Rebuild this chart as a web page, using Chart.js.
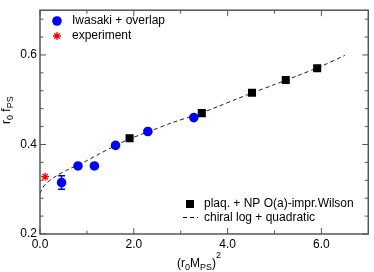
<!DOCTYPE html>
<html>
<head>
<meta charset="utf-8">
<script src="https://cdn.jsdelivr.net/npm/chart.js@4.4.1/dist/chart.umd.min.js"></script>
<style>
    html, body { margin: 0; padding: 0; background: #fff; }
</style>
</head>
<body>
<canvas id="fpsChart" width="374" height="272"></canvas>
<script>
// ===========================
// DATA
// ===========================
const iwasakiX = [0.46, 0.81, 1.16, 1.61, 2.30, 3.28];
const iwasakiY = [0.315, 0.352, 0.352, 0.398, 0.429, 0.460];
const iwasakiErr = [0.015, 0, 0, 0, 0, 0];

const wilsonX = [1.91, 3.45, 4.52, 5.24, 5.91];
const wilsonY = [0.414, 0.470, 0.5155, 0.544, 0.5705];

const experimentX = [0.11];
const experimentY = [0.328];

const fitX = [0, 0.05, 0.12, 0.2, 0.35, 0.6, 1.0, 1.3, 1.6, 1.9, 2.3, 2.8, 3.4, 3.8, 4.2, 4.5, 5.0, 5.5, 6.0, 6.5];
const fitY = [0.290, 0.302, 0.312, 0.319, 0.330, 0.344, 0.364, 0.381, 0.397, 0.412, 0.428, 0.448, 0.469, 0.485, 0.502, 0.514, 0.534, 0.554, 0.575, 0.599];

const xTicks = [0, 2, 4, 6];
const xMinorTicks = [1, 3, 5];
const yTicks = [0.2, 0.4, 0.6];
const yMinorTicks = [0.24, 0.28, 0.32, 0.36, 0.44, 0.48, 0.52, 0.56, 0.64, 0.68];

const legendTop = ['Iwasaki + overlap', 'experiment'];
const legendBottom = ['plaq. + NP O(a)-impr.Wilson', 'chiral log + quadratic'];

const FONT = "'Liberation Sans', Arial, Helvetica, sans-serif";

function toPoints(xs, ys) {
    return xs.map((x, i) => ({ x: x, y: ys[i] }));
}

// Write text with sub/superscript pieces: [text, kind] where kind is 0 / 'sub' / 'sup'
function drawRichText(ctx, parts, x, y) {
    let cx = x;
    parts.forEach(([txt, kind]) => {
        if (kind === 'sub') {
            ctx.font = `9px ${FONT}`;
            ctx.fillText(txt, cx, y + 3);
        } else if (kind === 'sup') {
            ctx.font = `9px ${FONT}`;
            ctx.fillText(txt, cx, y - 9);
        } else {
            ctx.font = `12px ${FONT}`;
            ctx.fillText(txt, cx, y);
        }
        cx += ctx.measureText(txt).width;
    });
}

// Frame, inward ticks, error bars, axis titles, legends
const decorPlugin = {
    id: 'decor',
    beforeDatasetsDraw(chart) {
        const ctx = chart.ctx;
        const xs = chart.scales.x, ys = chart.scales.y;
        ctx.save();
        ctx.strokeStyle = '#0000ff';
        ctx.lineWidth = 1.5;
        iwasakiX.forEach((x, i) => {
            const e = iwasakiErr[i];
            if (!e) return;
            const px = xs.getPixelForValue(x);
            const top = ys.getPixelForValue(iwasakiY[i] + e);
            const bot = ys.getPixelForValue(iwasakiY[i] - e);
            ctx.beginPath();
            ctx.moveTo(px, top); ctx.lineTo(px, bot);
            ctx.moveTo(px - 3.5, top); ctx.lineTo(px + 3.5, top);
            ctx.moveTo(px - 3.5, bot); ctx.lineTo(px + 3.5, bot);
            ctx.stroke();
        });
        ctx.restore();
    },
    afterDraw(chart) {
        const ctx = chart.ctx;
        const a = chart.chartArea;
        const xs = chart.scales.x, ys = chart.scales.y;
        ctx.save();

        // frame
        ctx.strokeStyle = '#555';
        ctx.lineWidth = 1.5;
        ctx.strokeRect(a.left, a.top, a.right - a.left, a.bottom - a.top);

        // inward ticks on all four sides
        ctx.lineWidth = 1;
        ctx.beginPath();
        const xTick = (v, len) => {
            const p = xs.getPixelForValue(v);
            ctx.moveTo(p, a.bottom); ctx.lineTo(p, a.bottom - len);
            ctx.moveTo(p, a.top); ctx.lineTo(p, a.top + len);
        };
        const yTick = (v, len) => {
            const p = ys.getPixelForValue(v);
            ctx.moveTo(a.left, p); ctx.lineTo(a.left + len, p);
            ctx.moveTo(a.right, p); ctx.lineTo(a.right - len, p);
        };
        xTicks.forEach(v => xTick(v, 6));
        xMinorTicks.forEach(v => xTick(v, 3.5));
        yTicks.forEach(v => yTick(v, 6));
        yMinorTicks.forEach(v => yTick(v, 3.5));
        ctx.stroke();

        // axis titles
        ctx.fillStyle = '#000';
        ctx.textBaseline = 'alphabetic';
        ctx.textAlign = 'left';
        drawRichText(ctx, [['(r', 0], ['0', 'sub'], ['M', 0], ['PS', 'sub'], [')', 0], ['2', 'sup']], 177, 267);

        ctx.save();
        ctx.translate(10, 124);
        ctx.rotate(-Math.PI / 2);
        drawRichText(ctx, [['r', 0], ['0', 'sub'], [' f', 0], ['PS', 'sub']], 0, 0);
        ctx.restore();

        // legend, top left
        ctx.font = `12px ${FONT}`;
        ctx.textBaseline = 'middle';
        ctx.fillStyle = '#0000ff';
        ctx.beginPath();
        ctx.arc(57, 21, 4.8, 0, Math.PI * 2);
        ctx.fill();
        ctx.strokeStyle = '#ff0000';
        ctx.fillStyle = '#ff0000';
        ctx.lineWidth = 1.3;
        Chart.helpers.drawPoint(ctx, { pointStyle: 'star', radius: 4, borderWidth: 1.3 }, 57, 36);
        ctx.fillStyle = '#000';
        ctx.fillText(legendTop[0], 72, 21);
        ctx.fillText(legendTop[1], 72, 36);

        // legend, bottom right
        ctx.fillRect(186, 200, 8, 8);
        ctx.strokeStyle = '#000';
        ctx.lineWidth = 1;
        ctx.setLineDash([4, 3]);
        ctx.beginPath();
        ctx.moveTo(183, 217.5); ctx.lineTo(198, 217.5);
        ctx.stroke();
        ctx.setLineDash([]);
        ctx.fillText(legendBottom[0], 204, 204);
        ctx.fillText(legendBottom[1], 204, 217.5);

        ctx.restore();
    }
};

const ctx = document.getElementById('fpsChart').getContext('2d');

new Chart(ctx, {
    type: 'scatter',
    data: {
        datasets: [
            {
                label: legendTop[0],
                data: toPoints(iwasakiX, iwasakiY),
                pointStyle: 'circle',
                pointRadius: 4.8,
                backgroundColor: '#0000ff',
                borderColor: '#0000ff',
                borderWidth: 0
            },
            {
                label: legendTop[1],
                data: toPoints(experimentX, experimentY),
                pointStyle: 'star',
                pointRadius: 4,
                backgroundColor: '#ff0000',
                borderColor: '#ff0000',
                borderWidth: 1.3
            },
            {
                label: legendBottom[0],
                data: toPoints(wilsonX, wilsonY),
                pointStyle: 'rect',
                pointRadius: 5.7,
                backgroundColor: '#000',
                borderColor: '#000',
                borderWidth: 0
            },
            {
                label: legendBottom[1],
                type: 'line',
                data: toPoints(fitX, fitY),
                borderColor: '#222',
                borderWidth: 1,
                borderDash: [4, 3],
                pointRadius: 0,
                tension: 0.3,
                fill: false
            }
        ]
    },
    options: {
        responsive: false,
        animation: false,
        layout: { padding: { top: 1, right: 2, left: 0, bottom: 0 } },
        plugins: {
            legend: { display: false },
            tooltip: { enabled: false },
            title: { display: false }
        },
        scales: {
            x: {
                type: 'linear',
                min: 0,
                max: 7,
                afterBuildTicks: scale => { scale.ticks = xTicks.map(v => ({ value: v })); },
                afterFit: scale => { scale.height = 38; },
                grid: { display: false, drawTicks: false },
                border: { display: false },
                ticks: {
                    padding: 3,
                    color: '#000',
                    font: { family: FONT, size: 12 },
                    callback: v => v.toFixed(1)
                }
            },
            y: {
                type: 'linear',
                min: 0.2,
                max: 0.7,
                afterBuildTicks: scale => { scale.ticks = yTicks.map(v => ({ value: v })); },
                afterFit: scale => { scale.width = 40; },
                grid: { display: false, drawTicks: false },
                border: { display: false },
                ticks: {
                    padding: 3,
                    color: '#000',
                    font: { family: FONT, size: 12 },
                    callback: v => v.toFixed(1)
                }
            }
        }
    },
    plugins: [decorPlugin]
});
</script>
</body>
</html>
